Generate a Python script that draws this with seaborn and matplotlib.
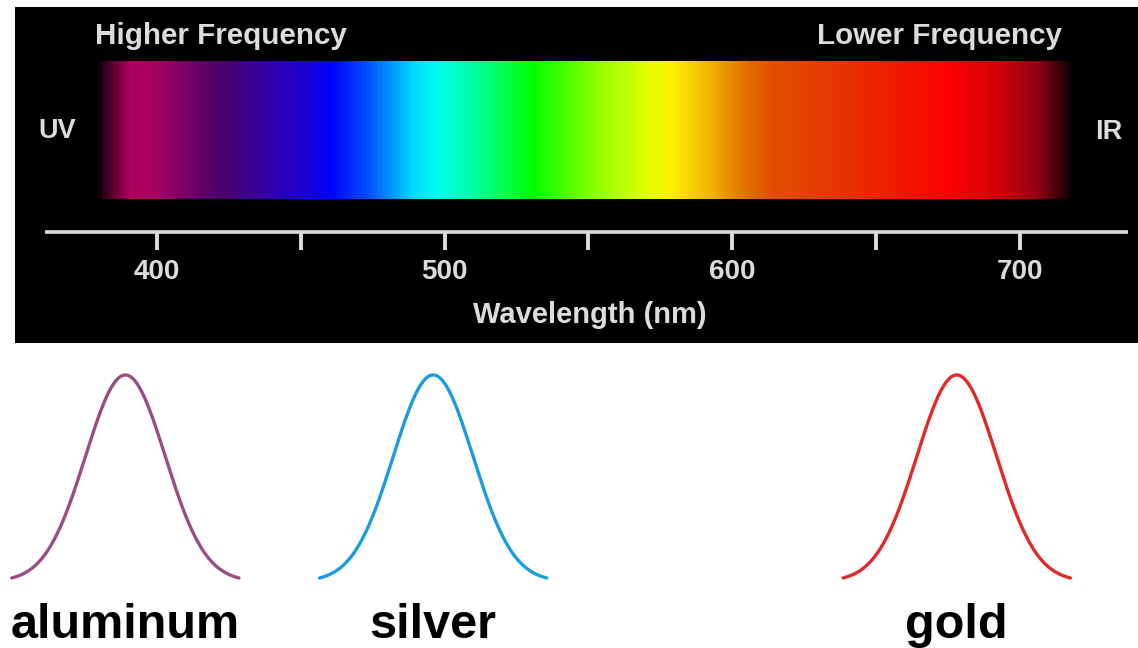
import numpy as np
import pandas as pd
import matplotlib
matplotlib.use("Agg")
import matplotlib.pyplot as plt
from matplotlib.colors import LinearSegmentedColormap
import seaborn as sns

# spectrum colour stops (wavelength nm -> colour)
stop_nm = [378, 383, 390, 400, 413, 423, 440, 452, 460, 474, 489, 498, 512,
           530, 553, 570, 579, 593, 605, 614, 641, 676, 693, 707, 714, 719]
stop_colors = ["#000000", "#50002a", "#b0005c", "#a00062", "#6a0068", "#48006e",
               "#3000b0", "#1800d8", "#0000ff", "#0058ff", "#00dcff", "#00ffec",
               "#00ff90", "#00ff00", "#90ff00", "#e0ff00", "#fff000", "#f0b000",
               "#e07000", "#e05000", "#e83000", "#ff0000", "#d00008", "#900012",
               "#40000a", "#000000"]

tick_nm = [400, 450, 500, 550, 600, 650, 700]
tick_labels = ["400", "", "500", "", "600", "", "700"]

# metals and the wavelength of their peak (nm), half width of the bump (nm)
metals = ["aluminum", "silver", "gold"]
peak_nm = [389, 496, 678]
half_width_nm = [39.5, 39.5, 39.5]
metal_colors = ["#994c86", "#1a9de0", "#e02a28"]

W, H = 1138, 648
sns.set_theme(style="white")
plt.rcParams['font.family'] = ['Liberation Sans', 'DejaVu Sans']

fig = plt.figure(figsize=(W / 100, H / 100), dpi=100)

# nm <-> pixel scale of the spectrum ruler
px_per_nm = (1020 - 157) / 300.0
def px_to_nm(px):
    return 400 + (px - 157) / px_per_nm

# --- top panel: the spectrum ---
ax = fig.add_axes([15 / W, 1 - 343 / H, 1 - 15 / W, 336 / H])
ax.set_facecolor("black")
ax.set_xlim(px_to_nm(15), px_to_nm(W))
ax.set_ylim(343, 7)
ax.set_axis_off()
ax.add_patch(plt.Rectangle((0, 0), 1, 1, transform=ax.transAxes, color="black", zorder=0))

span = stop_nm[-1] - stop_nm[0]
cmap = LinearSegmentedColormap.from_list(
    "spec", [((n - stop_nm[0]) / span, c) for n, c in zip(stop_nm, stop_colors)])
grad = np.linspace(stop_nm[0], stop_nm[-1], 1200)[None, :]
ax.imshow(grad, extent=[stop_nm[0], stop_nm[-1], 199, 61], aspect="auto",
          cmap=cmap, vmin=stop_nm[0], vmax=stop_nm[-1], interpolation="bilinear", zorder=1)

light = "#dcdcdc"
ax.hlines(232, px_to_nm(45), px_to_nm(1128), color=light, lw=2.6, zorder=2)
ax.vlines(tick_nm, 233, 250, color=light, lw=2.8, zorder=2)
for t, lab in zip(tick_nm, tick_labels):
    if lab:
        ax.text(t, 272, lab, color=light, fontsize=20, fontweight="bold",
                ha="center", va="center")
ax.text(px_to_nm(590), 315, "Wavelength (nm)", color=light, fontsize=21,
        fontweight="bold", ha="center", va="center")
ax.text(px_to_nm(95), 36, "Higher Frequency", color=light, fontsize=21.3,
        fontweight="bold", ha="left", va="center")
ax.text(px_to_nm(1062), 36, "Lower Frequency", color=light, fontsize=21.3,
        fontweight="bold", ha="right", va="center")
ax.text(px_to_nm(57), 131, "UV", color=light, fontsize=19.5, fontweight="bold",
        ha="center", va="center")
ax.text(px_to_nm(1109), 132, "IR", color=light, fontsize=19.5, fontweight="bold",
        ha="center", va="center")

# --- bottom panel: metal peaks ---
ax2 = fig.add_axes([0, 0, 1, 1 - 343 / H])
ax2.set_xlim(px_to_nm(0), px_to_nm(W))
ax2.set_ylim(-(648 - 578) / 203, (578 - 343) / 203)
ax2.set_axis_off()

rows = []
for name, mu, hw in zip(metals, peak_nm, half_width_nm):
    sigma = hw / 2.85
    x = np.linspace(mu - hw, mu + hw, 200)
    g = np.exp(-0.5 * ((x - mu) / sigma) ** 2)
    g = (g - g.min()) / (g.max() - g.min())
    rows.append(pd.DataFrame({"nm": x, "level": g, "metal": name}))
df = pd.concat(rows, ignore_index=True)

sns.lineplot(data=df, x="nm", y="level", hue="metal", palette=metal_colors,
             hue_order=metals, linewidth=2.4, legend=False, ax=ax2)
ax2.set_axis_off()

for name, mu in zip(metals, peak_nm):
    ax2.text(mu, -(625 - 578) / 203, name, fontsize=35, fontweight="bold",
             color="black", ha="center", va="center")

fig.savefig("out.png", dpi=100)
